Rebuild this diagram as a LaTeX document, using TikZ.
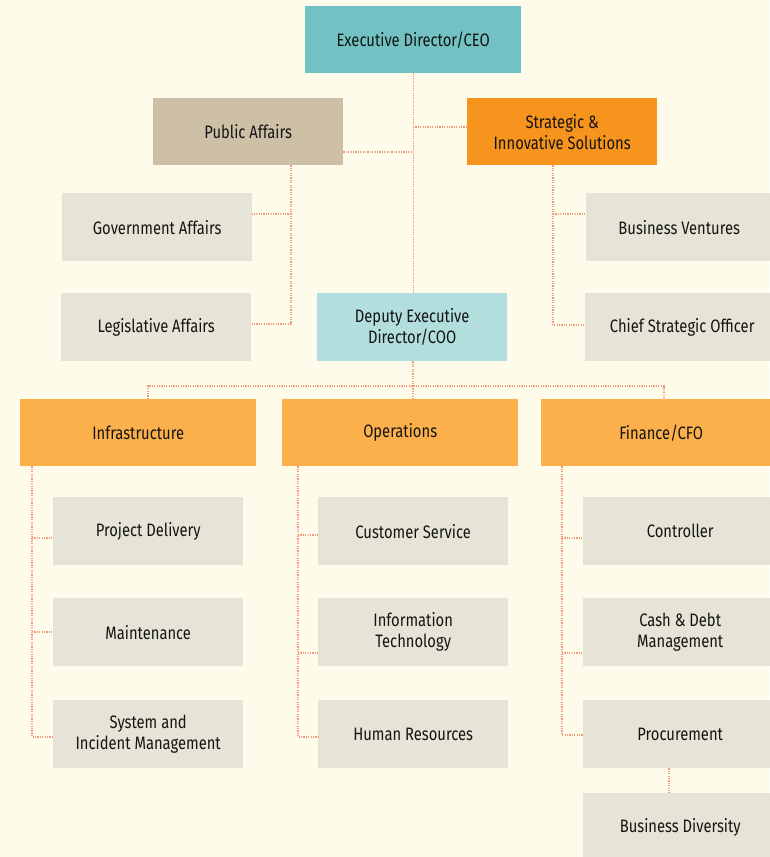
\documentclass[tikz,border=0pt]{standalone}
\usepackage{fontspec}
\setmainfont[FakeStretch=0.82]{Fira Sans}
\definecolor{bg}{HTML}{FFFBEB}
\definecolor{ceoc}{HTML}{72C2C3}
\definecolor{coo}{HTML}{B2DFDD}
\definecolor{tan}{HTML}{CEC0A6}
\definecolor{orgdark}{HTML}{F7941E}
\definecolor{orgl}{HTML}{FBB04C}
\definecolor{grayb}{HTML}{E6E4D6}
\definecolor{lnc}{HTML}{F39A7C}
\definecolor{txt}{HTML}{141414}
\tikzset{
  box/.style={anchor=north west, inner sep=0pt, align=center, text=txt,
     font=\fontsize{18}{21}\selectfont},
  conn/.style={draw=lnc, line width=1.2pt, dash pattern=on 1.2pt off 1.2pt},
}
\newcommand{\bx}[7]{\node[box, fill=#6, minimum width={(#4-#2)*1pt}, minimum height={(#5-#3)*1pt}] (#1) at (#2,#3) {#7};}
\begin{document}
\begin{tikzpicture}[x=1pt,y=-1pt]
\fill[bg] (0,0) rectangle (769,857);
\useasboundingbox (0,0) rectangle (769,857);
\coordinate (pa1) at (291,214);
\coordinate (pa2) at (291,324);
\coordinate (si1) at (553,214);
\coordinate (si2) at (553,325);
\coordinate (busL) at (148,386);
\coordinate (busM) at (413,386);
\coordinate (busR) at (664,386);
\coordinate (in1) at (32,538);
\coordinate (in2) at (32,632);
\coordinate (in3) at (32,737);
\coordinate (op1) at (298,535);
\coordinate (op2) at (298,653);
\coordinate (op3) at (298,737);
\coordinate (fi1) at (562,538);
\coordinate (fi2) at (562,653);
\coordinate (fi3) at (562,735);
\coordinate (sp1) at (413,152);
\coordinate (sp2) at (413,127);
% boxes
\bx{ceo}{305}{6}{521}{73}{ceoc}{Executive Director/CEO}
\bx{pa}{153}{98}{343}{165}{tan}{Public Affairs}
\bx{sis}{467}{98}{657}{165}{orgdark}{Strategic \&\\Innovative Solutions}
\bx{gov}{62}{193}{252}{261}{grayb}{Government Affairs}
\bx{leg}{61}{293}{251}{361}{grayb}{Legislative Affairs}
\bx{bv}{586}{193}{772}{261}{grayb}{Business Ventures}
\bx{cso}{585}{293}{779}{361}{grayb}{Chief Strategic Officer}
\bx{dep}{317}{293}{507}{361}{coo}{Deputy Executive\\Director/COO}
\bx{inf}{20}{399}{256}{466}{orgl}{Infrastructure}
\bx{ops}{282}{399}{518}{466}{orgl}{Operations}
\bx{fin}{541}{399}{781}{466}{orgl}{Finance/CFO}
\bx{pd}{53}{497}{243}{565}{grayb}{Project Delivery}
\bx{mt}{53}{598}{243}{666}{grayb}{Maintenance}
\bx{sim}{53}{700}{243}{768}{grayb}{System and\\Incident Management}
\bx{cs}{318}{497}{508}{565}{grayb}{Customer Service}
\bx{it}{318}{598}{508}{666}{grayb}{Information\\Technology}
\bx{hr}{318}{700}{508}{768}{grayb}{Human Resources}
\bx{ctl}{583}{497}{777}{565}{grayb}{Controller}
\bx{cdm}{583}{598}{777}{666}{grayb}{Cash \& Debt\\Management}
\bx{pro}{583}{700}{777}{768}{grayb}{Procurement}
\bx{bd}{583}{793}{777}{861}{grayb}{Business Diversity}
% connectors
\draw[conn] (ceo.south) -- (dep.north -| ceo.south);
\draw[conn] (pa.east |- sp1) -- (sp1);
\draw[conn] (sp2) -- (sis.west |- sp2);
\draw[conn] (pa.south -| pa1) -- (pa2) -- (leg.east |- pa2);
\draw[conn] (pa1) -- (gov.east |- pa1);
\draw[conn] (sis.south -| si1) -- (si2) -- (cso.west |- si2);
\draw[conn] (si1) -- (bv.west |- si1);
\draw[conn] (dep.south -| busM) -- (busM);
\draw[conn] (inf.north -| busL) -- (busL) -- (busR) -- (fin.north -| busR);
\draw[conn] (busM) -- (ops.north -| busM);
\draw[conn] (inf.south -| in1) -- (in3) -- (sim.west |- in3);
\draw[conn] (in1) -- (pd.west |- in1);
\draw[conn] (in2) -- (mt.west |- in2);
\draw[conn] (ops.south -| op1) -- (op3) -- (hr.west |- op3);
\draw[conn] (op1) -- (cs.west |- op1);
\draw[conn] (op2) -- (it.west |- op2);
\draw[conn] (fin.south -| fi1) -- (fi3) -- (pro.west |- fi3);
\draw[conn] (fi1) -- (ctl.west |- fi1);
\draw[conn] (fi2) -- (cdm.west |- fi2);
\draw[conn] (pro.south -| 669,0) -- (bd.north -| 669,0);
\end{tikzpicture}
\end{document}
